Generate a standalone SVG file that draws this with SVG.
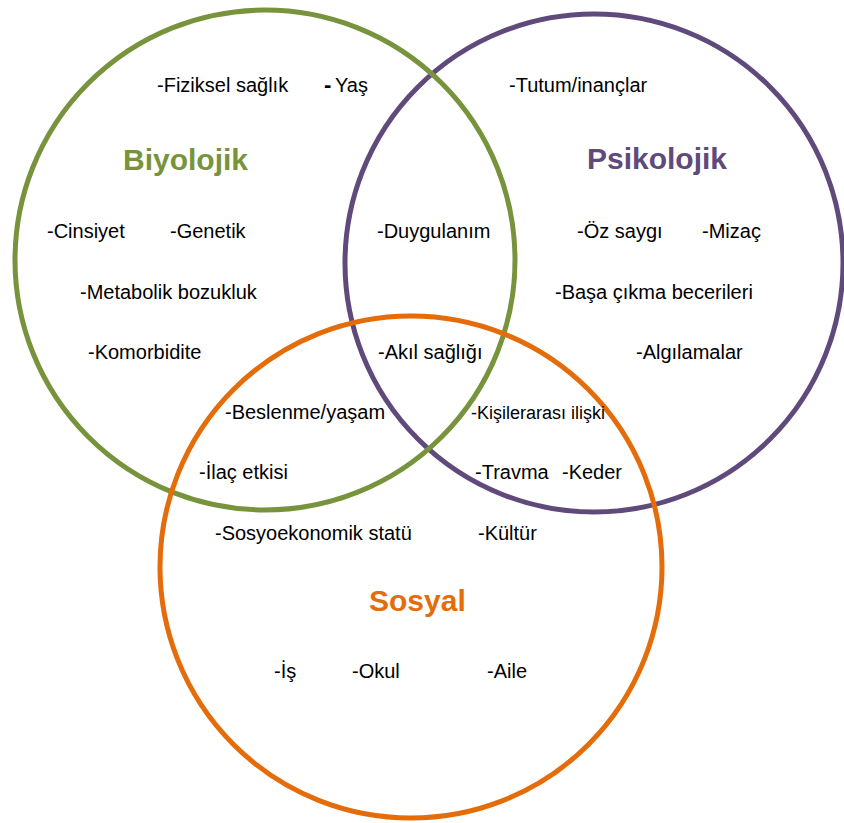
<svg xmlns="http://www.w3.org/2000/svg" width="844" height="823" viewBox="0 0 844 823">
<style>
  .ring { fill: none; stroke-width: 5; }
  .title { font-family: "Liberation Sans", Arial, sans-serif; font-size: 30px; font-weight: bold; }
  .lbl { font-family: "Liberation Sans", Arial, sans-serif; font-size: 20px; fill: #000; }
  .sm { font-size: 18px; }
</style>
<rect width="844" height="823" fill="#fff"/>
<g id="psikolojik">
  <circle class="ring" cx="594" cy="263" r="249" stroke="#604A7B"/>
</g>
<g id="biyolojik">
  <circle class="ring" cx="265" cy="260" r="250" stroke="#77933C"/>
</g>
<g id="sosyal">
  <circle class="ring" cx="411" cy="567" r="251" stroke="#E46C0A"/>
</g>
<g id="titles">
  <text class="title" x="123" y="170" fill="#77933C">Biyolojik</text>
  <text class="title" x="587" y="169" fill="#604A7B">Psikolojik</text>
  <text class="title" x="369" y="611" fill="#E46C0A">Sosyal</text>
</g>
<g id="labels">
  <text class="lbl" x="157" y="92">-Fiziksel sağlık</text>
  <text class="lbl" x="324" y="92"><tspan font-weight="bold" font-size="22">-</tspan><tspan x="335">Yaş</tspan></text>
  <text class="lbl" x="509" y="92">-Tutum/inançlar</text>
  <text class="lbl" x="47" y="238">-Cinsiyet</text>
  <text class="lbl" x="170" y="238">-Genetik</text>
  <text class="lbl" x="377" y="238">-Duygulanım</text>
  <text class="lbl" x="577" y="238">-Öz saygı</text>
  <text class="lbl" x="702" y="238">-Mizaç</text>
  <text class="lbl" x="80" y="299">-Metabolik bozukluk</text>
  <text class="lbl" x="555" y="299">-Başa çıkma becerileri</text>
  <text class="lbl" x="88" y="359">-Komorbidite</text>
  <text class="lbl" x="378" y="359">-Akıl sağlığı</text>
  <text class="lbl" x="636" y="359">-Algılamalar</text>
  <text class="lbl" x="225" y="419">-Beslenme/yaşam</text>
  <text class="lbl sm" x="471" y="419">-Kişilerarası ilişki</text>
  <text class="lbl" x="199" y="479">-İlaç etkisi</text>
  <text class="lbl" x="475" y="479">-Travma</text>
  <text class="lbl" x="562" y="479">-Keder</text>
  <text class="lbl" x="215" y="540">-Sosyoekonomik statü</text>
  <text class="lbl" x="478" y="540">-Kültür</text>
  <text class="lbl" x="274" y="678">-İş</text>
  <text class="lbl" x="352" y="678">-Okul</text>
  <text class="lbl" x="487" y="678">-Aile</text>
</g>
</svg>
